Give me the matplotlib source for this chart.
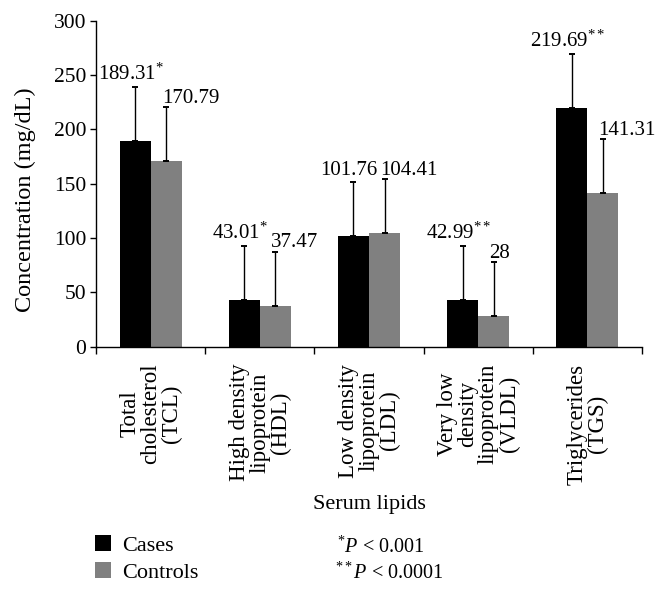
import matplotlib
matplotlib.use('Agg')
import matplotlib.pyplot as plt
import numpy as np

plt.rcParams['font.family'] = 'Liberation Serif'
plt.rcParams['mathtext.fontset'] = 'custom'
plt.rcParams['mathtext.rm'] = 'Liberation Serif'
plt.rcParams['mathtext.it'] = 'Liberation Serif:italic'

# data
categories = ['Total\ncholesterol\n(TCL)', 'High density\nlipoprotein\n(HDL)',
              'Low density\nlipoprotein\n(LDL)', 'Very low\ndensity\nlipoprotein\n(VLDL)',
              'Triglycerides\n(TGS)']
cases = [189.31, 43.01, 101.76, 42.99, 219.69]
controls = [170.79, 37.47, 104.41, 28, 141.31]
cases_err = [50, 50, 50, 50, 50]
controls_err = [50, 50, 50, 50, 50]
cases_sig = ['*', '*', '', '**', '**']
yticks = [0, 50, 100, 150, 200, 250, 300]

fig = plt.figure(figsize=(6.65, 5.94), dpi=100)
ax = fig.add_axes([96/665, 1-346.7/594, 546/665, 326/594])

x = np.arange(len(categories))
w = 0.284
ekw = dict(ecolor='black', elinewidth=1.0, capsize=2.5, capthick=1.4)
b1 = ax.bar(x - w/2, cases, w, color='black', label='Cases',
            yerr=[np.zeros(len(cases)), cases_err], error_kw=ekw)
b2 = ax.bar(x + w/2, controls, w, color='#808080', label='Controls',
            yerr=[np.zeros(len(controls)), controls_err], error_kw=ekw)

for i in range(len(categories)):
    lab = '%g' % cases[i]
    if cases_sig[i]:
        lab += '$^{%s}$' % cases_sig[i]
    ax.annotate(lab, (x[i] - w/2 - 0.04, cases[i] + cases_err[i]), xytext=(0, 5),
                textcoords='offset points', ha='center', va='baseline', fontsize=15)
    ax.annotate('%g' % controls[i], (x[i] + w/2 - 0.04, controls[i] + controls_err[i]),
                xytext=(0, 3), textcoords='offset points', ha='left', va='baseline',
                fontsize=15)

ax.set_xlim(-0.5, len(categories) - 0.5)
ax.set_ylim(0, 300)
ax.set_yticks(yticks)
ax.tick_params(axis='y', labelsize=15.5, length=4, width=1, direction='out', pad=3)
ax.set_xticks(np.arange(len(categories) + 1) - 0.5)
ax.set_xticklabels([])
ax.tick_params(axis='x', length=5, width=1, direction='out')
for s in ['top', 'right']:
    ax.spines[s].set_visible(False)
for s in ['left', 'bottom']:
    ax.spines[s].set_linewidth(1)

for i, c in enumerate(categories):
    ax.text(x[i], -0.052, c, transform=ax.get_xaxis_transform(), rotation=90,
            ha='center', va='top', multialignment='center', fontsize=16.5,
            linespacing=0.98)

ax.set_ylabel('Concentration (mg/dL)', fontsize=17.5)
ax.yaxis.set_label_coords(-0.11, 0.45)

fig.text(369/665, 1-504/594, 'Serum lipids', ha='center', va='center', fontsize=16)

fig.legend(handles=[b1, b2], loc='center left', bbox_to_anchor=(95/665, 1-559/594),
           frameon=False, fontsize=16, handlelength=0.7, handleheight=0.7,
           handletextpad=0.5, labelspacing=0.3, borderaxespad=0, borderpad=0)

fig.text(337/665, 1-547/594, r'$^{*}P$ < 0.001', ha='left', va='center', fontsize=14.5)
fig.text(335/665, 1-573/594, r'$^{**}P$ < 0.0001', ha='left', va='center', fontsize=14.5)

fig.savefig('out.png', dpi=100)
